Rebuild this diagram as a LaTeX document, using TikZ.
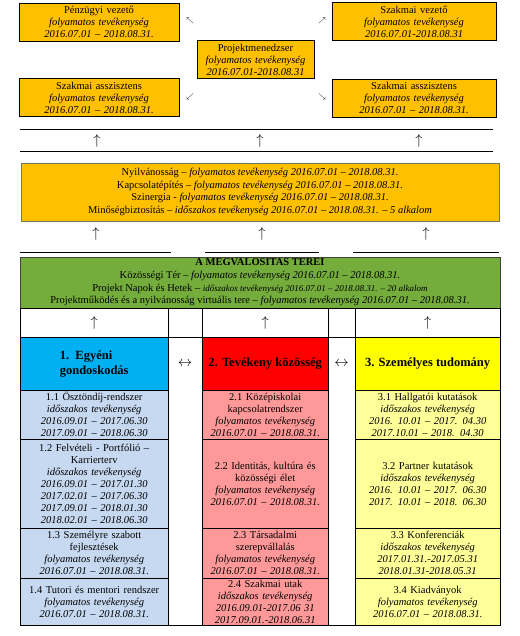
\documentclass[tikz,border=0pt]{standalone}
\usepackage{fontspec}
\setmainfont{Liberation Serif}
\usepackage{tikz}
\usepackage{amsmath}
\usepackage{xcolor}
\definecolor{narancs}{HTML}{FFC000}
\definecolor{zold}{HTML}{74AD3C}
\definecolor{kek}{HTML}{00B0F0}
\definecolor{piros}{HTML}{FF0000}
\definecolor{sarga}{HTML}{FFFF00}
\definecolor{halvkek}{HTML}{C6D9F1}
\definecolor{halvpiros}{HTML}{FF9999}
\definecolor{halvsarga}{HTML}{FFFF99}
\definecolor{keret}{HTML}{6F7A5C}
\newcommand{\felnyil}{{\fontsize{15}{15}\selectfont$\uparrow$}}
\newcommand{\ferdenyil}[1]{{\fontsize{7}{7}\selectfont$#1$}}
\newcommand{\ketnyil}{{\fontsize{14}{14}\selectfont$\leftrightarrow$}}

\begin{document}
\begin{tikzpicture}[x=1pt,y=-1pt,
  every node/.append style={inner sep=1pt, font=\fontsize{10.5}{12}\selectfont},
  felso/.style={draw=black, fill=narancs, align=center, minimum height=38pt, text width=#1},
  cella/.style={draw=black, anchor=north west, align=center, text width=#1},
  fejlec/.style={draw=black, anchor=north west, align=left, minimum width=#1, minimum height=53pt,
    font=\fontsize{12.5}{15}\selectfont\bfseries}]
\useasboundingbox (0,0) rectangle (519,636);
% vezetok
\node[felso=158] (penz) at (99,22) {Pénzügyi vezető\\ \textit{folyamatos tevékenység}\\ \textit{2016.07.01 – 2018.08.31.}};
\node[felso=158] (asszb) at (99,97.5) {Szakmai asszisztens\\ \textit{folyamatos tevékenység}\\ \textit{2016.07.01 – 2018.08.31.}};
\node[felso=115] (pm) at (255.5,59.5) {Projektmenedzser\\ \textit{folyamatos tevékenység}\\ \textit{2016.07.01-2018.08.31}};
\node[felso=162] (szv) at (414,21.5) {Szakmai vezető\\ \textit{folyamatos tevékenység}\\ \textit{2016.07.01-2018.08.31}};
\node[felso=162] (asszj) at (414,98) {Szakmai asszisztens\\ \textit{folyamatos tevékenység}\\ \textit{2016.07.01 – 2018.08.31.}};
\node (ny1) at (190,21) {\ferdenyil{\nwarrow}};
\node (ny2) at (190,97) {\ferdenyil{\swarrow}};
\node (ny3) at (322,21) {\ferdenyil{\nearrow}};
\node (ny4) at (322,97) {\ferdenyil{\searrow}};
% nyilak sora
\draw (20,129) -- (493,129);
\draw (20,151) -- (493,151);
\foreach \x/\n in {97/fa,260/fb,419/fc}
  \node (\n) at (\x,141) {\felnyil};
% horizontalis tevekenysegek
\node[draw=keret, fill=narancs, minimum width=478pt, minimum height=58pt, align=center,
  font=\fontsize{10.5}{12.6}\selectfont] (horiz) at (260,192)
  {Nyilvánosság – \textit{folyamatos tevékenység 2016.07.01 – 2018.08.31.}\\
   Kapcsolatépítés – \textit{folyamatos tevékenység 2016.07.01 – 2018.08.31.}\\
   Szinergia - \textit{folyamatos tevékenység 2016.07.01 – 2018.08.31.}\\
   Minőségbiztosítás – \textit{időszakos tevékenység 2016.07.01 – 2018.08.31. – 5 alkalom}};
\foreach \x/\n in {96/ka,262/kb,426/kc}
  \node (\n) at (\x,234) {\felnyil};
\draw (20,252) -- (171,252);
\draw (205,252) -- (319,252);
\draw (353,252) -- (499,252);
% terek
\node[draw=black!75, fill=zold, minimum width=480pt, minimum height=51pt, align=center,
  font=\fontsize{10.5}{12.6}\selectfont] (terek) at (260,282.5)
  {\textbf{A MEGVALOSITAS TEREI}\\
   Közösségi Tér – \textit{folyamatos tevékenység 2016.07.01 – 2018.08.31.}\\
   Projekt Napok és Hetek – {\fontsize{9}{12}\selectfont\textit{időszakos tevékenység 2016.07.01 – 2018.08.31. – 20 alkalom}}\\
   Projektműködés és a nyilvánosság virtuális tere – \textit{folyamatos tevékenység 2016.07.01 – 2018.08.31.}};
% ures sor nyilakkal
\node[cella=146, minimum height=29pt] (ua) at (20,308) {\felnyil};
\node[cella=32, minimum height=29pt] (ux) at (168,308) {};
\node[cella=124, minimum height=29pt] (ub) at (202,308) {\felnyil};
\node[cella=25, minimum height=29pt] (uy) at (328,308) {};
\node[cella=143, minimum height=29pt] (uc) at (355,308) {\felnyil};
% oszlopok fejlece
\node[fejlec=148pt, fill=kek] (egyeni) at (20,337) {1.\ \ Egyéni\\gondoskodás};
\node[cella=32, minimum height=288pt] (resa) at (168,337) {};
\node[fejlec=126pt, fill=piros] (kozosseg) at (202,337) {2. Tevékeny közösség};
\node[cella=25, minimum height=288pt] (resb) at (328,337) {};
\node[fejlec=145pt, fill=sarga] (tudomany) at (355,337) {3. Személyes tudomány};
\node (ketnyila) at (185,364) {\ketnyil};
\node (ketnyilb) at (341.5,364) {\ketnyil};
% 1. oszlop
\node[cella=146, fill=halvkek, minimum height=49pt] (c11) at (20,390) {1.1 Ösztöndíj-rendszer\\ \textit{időszakos tevékenység}\\ \textit{2016.09.01 – 2017.06.30}\\ \textit{2017.09.01 – 2018.06.30}};
\node[cella=146, fill=halvkek, minimum height=89pt] (c12) at (20,439) {1.2 Felvételi - Portfólió –\\ Karrierterv\\ \textit{időszakos tevékenység}\\ \textit{2016.09.01 – 2017.01.30}\\ \textit{2017.02.01 – 2017.06.30}\\ \textit{2017.09.01 – 2018.01.30}\\ \textit{2018.02.01 – 2018.06.30}};
\node[cella=146, fill=halvkek, minimum height=50pt] (c13) at (20,528) {1.3 Személyre szabott\\ fejlesztések\\ \textit{folyamatos tevékenység}\\ \textit{2016.07.01 – 2018.08.31.}};
\node[cella=146, fill=halvkek, minimum height=47pt] (c14) at (20,578) {1.4 Tutori és mentori rendszer\\ \textit{folyamatos tevékenység}\\ \textit{2016.07.01 – 2018.08.31.}};
% 2. oszlop
\node[cella=124, fill=halvpiros, minimum height=49pt] (c21) at (202,390) {2.1 Középiskolai\\ kapcsolatrendszer\\ \textit{folyamatos tevékenység}\\ \textit{2016.07.01 – 2018.08.31.}};
\node[cella=124, fill=halvpiros, minimum height=89pt] (c22) at (202,439) {2.2 Identitás, kultúra és\\ közösségi élet\\ \textit{folyamatos tevékenység}\\ \textit{2016.07.01 – 2018.08.31.}};
\node[cella=124, fill=halvpiros, minimum height=50pt] (c23) at (202,528) {2.3 Társadalmi\\ szerepvállalás\\ \textit{folyamatos tevékenység}\\ \textit{2016.07.01 – 2018.08.31.}};
\node[cella=124, fill=halvpiros, minimum height=47pt] (c24) at (202,578) {2.4 Szakmai utak\\ \textit{időszakos tevékenység}\\ \textit{2016.09.01-2017.06 31}\\ \textit{2017.09.01.-2018.06.31}};
% 3. oszlop
\node[cella=143, fill=halvsarga, minimum height=49pt] (c31) at (355,390) {3.1 Hallgatói kutatások\\ \textit{időszakos tevékenység}\\ \textit{2016. 10.01 – 2017. 04.30}\\ \textit{2017.10.01 – 2018. 04.30}};
\node[cella=143, fill=halvsarga, minimum height=89pt] (c32) at (355,439) {3.2 Partner kutatások\\ \textit{időszakos tevékenység}\\ \textit{2016. 10.01 – 2017. 06.30}\\ \textit{2017. 10.01 – 2018. 06.30}};
\node[cella=143, fill=halvsarga, minimum height=50pt] (c33) at (355,528) {3.3 Konferenciák\\ \textit{időszakos tevékenység}\\ \textit{2017.01.31.-2017.05.31}\\ \textit{2018.01.31-2018.05.31}};
\node[cella=143, fill=halvsarga, minimum height=47pt] (c34) at (355,578) {3.4 Kiadványok\\ \textit{folyamatos tevékenység}\\ \textit{2016.07.01 – 2018.08.31.}};
\end{tikzpicture}
\end{document}
